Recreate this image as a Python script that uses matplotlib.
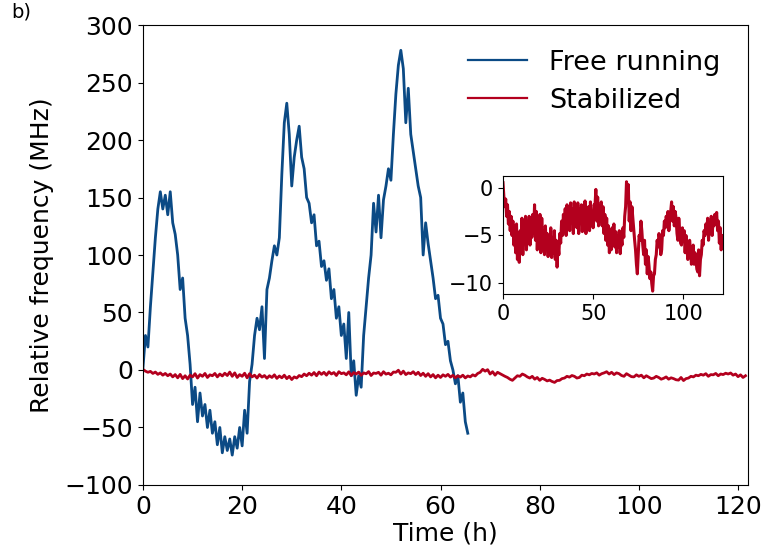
import numpy as np
import matplotlib
matplotlib.use("Agg")
import matplotlib.pyplot as plt

# free running laser, one sample every 0.5 h from 0 h
free_t0 = 0.0
free_dt = 0.5
free_running = [
    2, 30, 20, 55, 85, 115, 140, 155, 140, 152, 135, 155, 128, 118, 100, 70,
    80, 45, 30, 5, -30, -15, -45, -20, -40, -30, -50, -35, -55, -45, -65, -50,
    -72, -58, -70, -60, -74, -58, -68, -50, -66, -35, -55, -10, 5, 30, 45, 35,
    55, 10, 70, 80, 95, 108, 100, 115, 170, 215, 232, 205, 160, 185, 200, 212,
    185, 175, 150, 145, 128, 135, 108, 112, 90, 95, 78, 88, 62, 70, 45, 55,
    30, 40, 10, 50, -5, 8, -22, -5, -15, 30, 55, 80, 100, 145, 120, 152,
    115, 148, 160, 175, 165, 205, 240, 265, 278, 262, 215, 245, 205, 190, 175, 160,
    150, 100, 128, 110, 95, 80, 62, 65, 45, 40, 22, 25, 8, 0, -12, -5,
    -28, -20, -45, -55,
]

# stabilized laser, one sample every 0.5 h from 0 h
stab_t0 = 0.0
stab_dt = 0.5
stabilized = [
    0.5, -1.0, -2.0, -1.2, -3.0, -1.8, -3.8, -2.5, -4.5, -3.0, -5.0, -3.5,
    -6.0, -4.0, -6.8, -3.8, -7.5, -5.0, -7.8, -4.5, -6.0, -3.2, -7.0, -4.0,
    -5.5, -3.0, -6.5, -4.2, -5.0, -3.0, -6.0, -3.5, -5.2, -2.8, -4.8, -1.8,
    -5.5, -2.5, -6.5, -4.0, -5.5, -2.8, -6.8, -3.2, -6.0, -4.5, -7.0, -4.0,
    -6.2, -4.8, -7.2, -5.0, -6.5, -4.2, -7.3, -5.2, -6.8, -4.5, -7.5, -5.5,
    -8.3, -6.0, -7.0, -4.8, -5.8, -3.5, -5.0, -2.8, -4.5, -2.2, -5.0, -1.8,
    -3.8, -2.0, -4.5, -1.6, -3.5, -2.2, -4.8, -1.5, -3.2, -2.5, -4.2, -1.6,
    -4.8, -2.2, -3.5, -1.8, -4.6, -2.5, -3.3, -1.4, -4.8, -2.6, -3.0, -2.0,
    -4.5, -1.5, -3.6, -2.8, -4.2, -1.8, -2.0, -0.2, -3.5, -1.0, -4.0, -2.5,
    -3.2, -1.5, -4.0, -2.0, -4.8, -2.8, -5.5, -3.2, -6.0, -4.0, -6.8, -4.5,
    -6.5, -4.2, -5.5, -3.8, -6.2, -4.6, -6.8, -5.0, -6.2, -4.5, -6.9, -5.2,
    -6.0, -4.2, -5.2, -3.0, -2.0, 0.6, -1.0, 0.3, -3.5, -1.5, -4.5, -2.0,
    -3.2, -4.5, -5.5, -6.5, -8.0, -9.0, -7.0, -5.0, -5.5, -3.5, -4.5, -6.0,
    -7.0, -5.5, -8.0, -6.5, -9.0, -7.2, -8.2, -9.5, -8.8, -10.0, -10.8, -9.2,
    -9.0, -7.5, -7.0, -5.5, -6.2, -4.8, -5.5, -7.0, -6.5, -4.5, -5.0, -3.5,
    -4.2, -3.0, -3.5, -2.5, -4.5, -3.2, -2.5, -1.5, -3.5, -2.0, -4.0, -2.5,
    -3.2, -4.8, -5.5, -3.2, -4.5, -5.8, -6.0, -4.2, -5.5, -4.5, -6.8, -5.0,
    -6.2, -7.5, -7.0, -5.5, -6.5, -8.0, -7.2, -6.0, -8.0, -6.8, -7.5, -8.5,
    -8.8, -6.5, -9.2, -7.5, -7.0, -5.5, -6.0, -4.5, -5.0, -3.8, -4.5, -3.2,
    -5.5, -4.0, -4.2, -3.0, -5.0, -3.5, -4.0, -2.8, -3.5, -2.6, -4.5, -3.5,
    -5.8, -4.2, -6.5, -5.0,
]

free_time = free_t0 + free_dt * np.arange(len(free_running))
stab_time = stab_t0 + stab_dt * np.arange(len(stabilized))

blue = "#0b4a85"
red = "#b3001e"

fig = plt.figure(figsize=(7.67, 5.51), dpi=100)
ax = fig.add_axes([0.1864, 0.1198, 0.7888, 0.8348])
ax.plot(free_time, free_running, color=blue, lw=2.0, label="Free running")
ax.plot(stab_time, stabilized, color=red, lw=2.0, label="Stabilized")
ax.set_xlim(0, 122)
ax.set_ylim(-100, 300)
ax.set_xticks([0, 20, 40, 60, 80, 100, 120])
ax.set_yticks([-100, -50, 0, 50, 100, 150, 200, 250, 300])
ax.tick_params(labelsize=18)
ax.set_xlabel("Time (h)", fontsize=18, labelpad=2)
ax.set_ylabel("Relative frequency (MHz)", fontsize=18, labelpad=8)
leg = ax.legend(loc="upper right", bbox_to_anchor=(0.972, 0.970), frameon=False,
                fontsize=19.5, handlelength=2.2, borderaxespad=0, labelspacing=0.45)
for line in leg.get_lines():
    line.set_linewidth(1.6)

ins = fig.add_axes([0.6558, 0.4664, 0.2868, 0.2142])
ins.plot(stab_time, stabilized, color=red, lw=2.2)
ins.set_xlim(0, 122)
ins.set_ylim(-11.1, 1.2)
ins.set_xticks([0, 50, 100])
ins.set_yticks([-10, -5, 0])
ins.tick_params(labelsize=15)

# panel label
fig.text(0.015, 0.968, "b)", fontsize=14, va="baseline")

fig.savefig("out.png", dpi=100)
